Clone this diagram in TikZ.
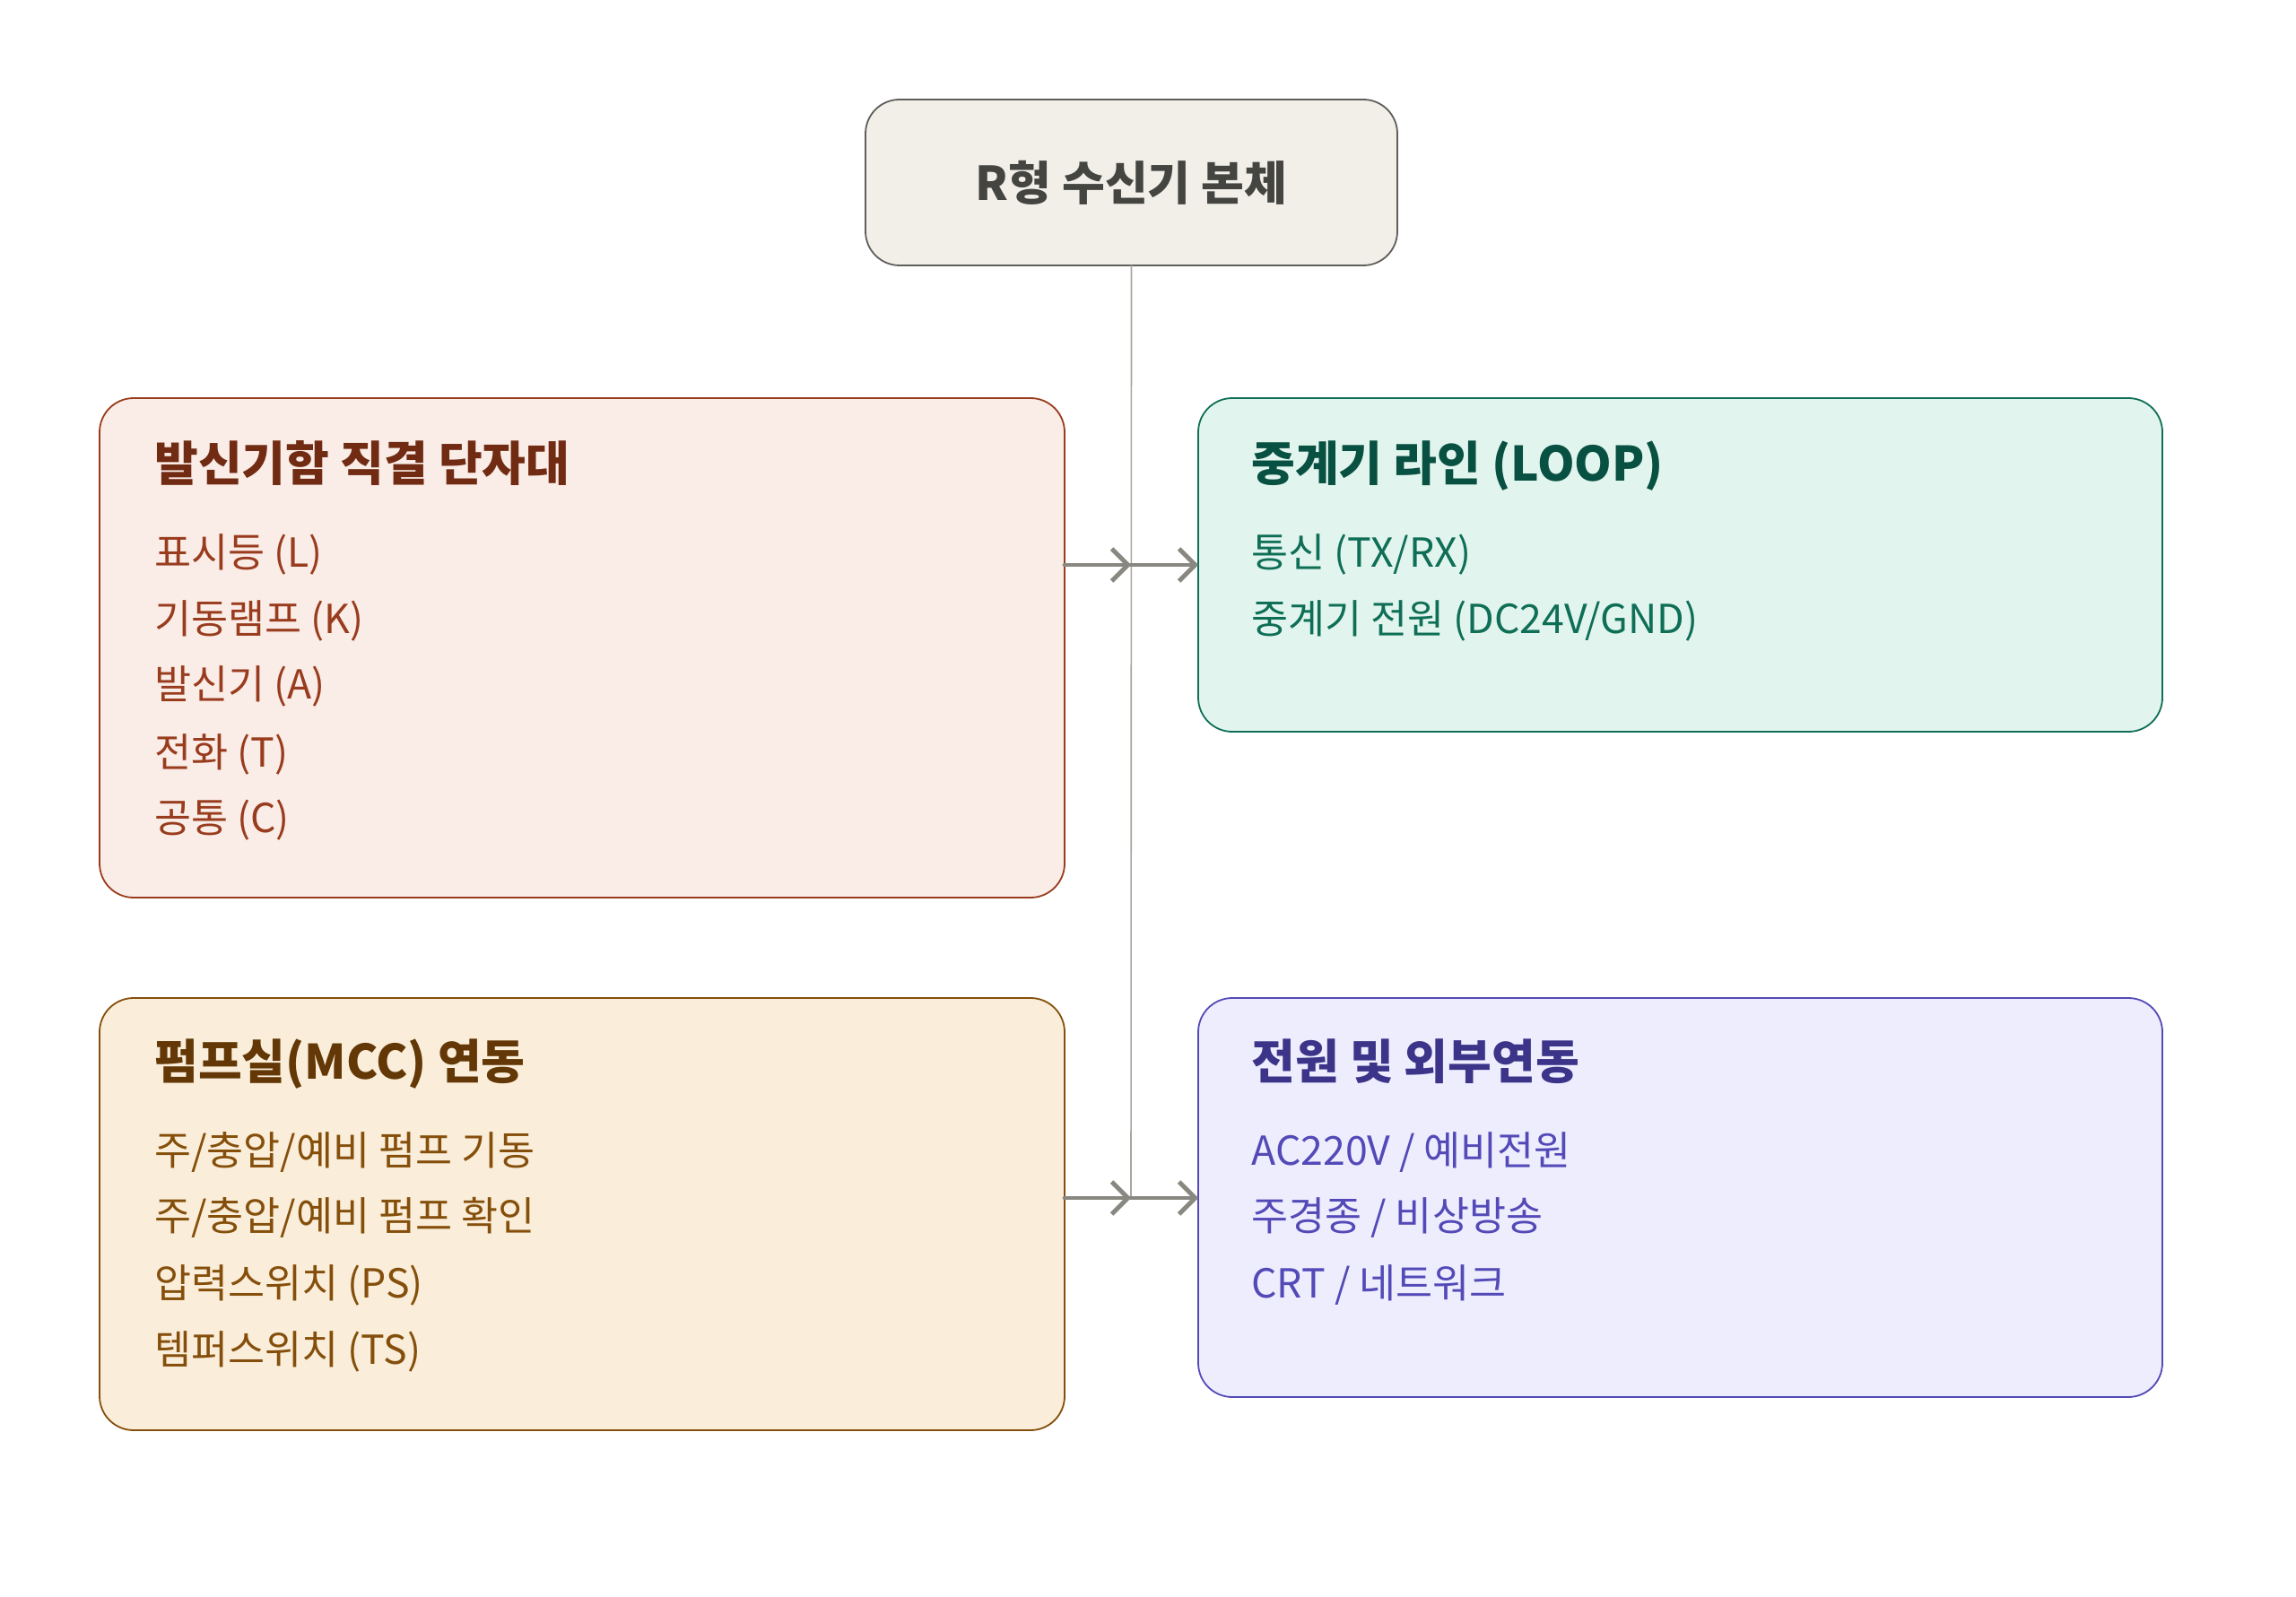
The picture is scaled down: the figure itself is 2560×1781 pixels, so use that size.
\documentclass[tikz,border=0pt]{standalone}
\usepackage{fontspec}
\setmainfont{Noto Sans CJK KR}
\usetikzlibrary{arrows.meta}
\definecolor{grayfill}{HTML}{F1EFE8}
\definecolor{graystroke}{HTML}{5F5E5A}
\definecolor{graytext}{HTML}{444441}
\definecolor{coralfill}{HTML}{FAECE7}
\definecolor{coralstroke}{HTML}{993C1D}
\definecolor{coraltitle}{HTML}{712B13}
\definecolor{coraltext}{HTML}{993C1D}
\definecolor{tealfill}{HTML}{E1F5EE}
\definecolor{tealstroke}{HTML}{0F6E56}
\definecolor{tealtitle}{HTML}{085041}
\definecolor{tealtext}{HTML}{0F6E56}
\definecolor{amberfill}{HTML}{FAEEDA}
\definecolor{amberstroke}{HTML}{854F0B}
\definecolor{ambertitle}{HTML}{633806}
\definecolor{ambertext}{HTML}{854F0B}
\definecolor{purplefill}{HTML}{EEEDFE}
\definecolor{purplestroke}{HTML}{534AB7}
\definecolor{purpletitle}{HTML}{3C3489}
\definecolor{purpletext}{HTML}{534AB7}
\definecolor{arrowgray}{HTML}{888780}
\definecolor{linegray}{HTML}{A8A69E}
\begin{document}
\begin{tikzpicture}[x=0.5pt,y=-0.5pt,
  box/.style={draw, rounded corners=19pt, line width=0.9pt, inner sep=0pt, outer sep=0pt, anchor=north west},
  ttl/.style={anchor=base west, inner sep=0pt, font=\fontsize{26.5}{31}\selectfont\bfseries},
  itm/.style={anchor=base west, inner sep=0pt, font=\fontsize{22.3}{26}\selectfont},
  conn/.style={draw=arrowgray, line width=2.4pt, line cap=round, line join=round, -{Straight Barb[length=9pt,width=18pt]}},
  trunk/.style={draw=linegray, line width=0.8pt}]
\useasboundingbox (0,0) rectangle (2560,1781);
\fill[white] (0,0) rectangle (2560,1781);
% top box
\node[box, fill=grayfill, draw=graystroke, minimum width=296.5pt, minimum height=92.5pt] (top) at (965,111) {};
\node[text=graytext, font=\fontsize{26}{30}\selectfont\bfseries, inner sep=0pt] (toptxt) at (top.center) {R형 수신기 본체};
% boxes
\node[box, fill=coralfill, draw=coralstroke, minimum width=538pt, minimum height=278.5pt] (b1) at (111,444) {};
\node[box, fill=tealfill, draw=tealstroke, minimum width=537.5pt, minimum height=186pt] (b2) at (1336,444) {};
\node[box, fill=amberfill, draw=amberstroke, minimum width=538pt, minimum height=241pt] (b3) at (111,1113) {};
\node[box, fill=purplefill, draw=purplestroke, minimum width=537.5pt, minimum height=222.5pt] (b4) at (1336,1113) {};
% texts box 1
\node[ttl, text=coraltitle] (t1) at (172,537) {발신기함 직결 단자대};
\node[itm, text=coraltext] (t1a) at (172,632) {표시등 (L)};
\node[itm, text=coraltext] (t1b) at (172,706) {기동램프 (K)};
\node[itm, text=coraltext] (t1c) at (172,779) {발신기 (A)};
\node[itm, text=coraltext] (t1d) at (172,855) {전화 (T)};
\node[itm, text=coraltext] (t1e) at (172,928) {공통 (C)};
% box 2
\node[ttl, text=tealtitle] (t2) at (1395,537) {중계기 라인 (LOOP)};
\node[itm, text=tealtext] (t2a) at (1395,632) {통신 (TX/RX)};
\node[itm, text=tealtext] (t2b) at (1395,706) {중계기 전원 (DC24V/GND)};
% box 3
\node[ttl, text=ambertitle] (t3) at (172,1203) {펌프실(MCC) 연동};
\node[itm, text=ambertext] (t3a) at (172,1299) {주/충압/예비 펌프 기동};
\node[itm, text=ambertext] (t3b) at (172,1372) {주/충압/예비 펌프 확인};
\node[itm, text=ambertext] (t3c) at (172,1447) {압력스위치 (PS)};
\node[itm, text=ambertext] (t3d) at (172,1521) {템퍼스위치 (TS)};
% box 4
\node[ttl, text=purpletitle] (t4) at (1395,1203) {전원 및 외부연동};
\node[itm, text=purpletext] (t4a) at (1395,1299) {AC220V / 예비전원};
\node[itm, text=purpletext] (t4b) at (1395,1372) {주경종 / 비상방송};
\node[itm, text=purpletext] (t4c) at (1395,1447) {CRT / 네트워크};
% connectors
\coordinate (j1) at (1261,630);
\coordinate (j2) at (1261,1336);
\draw[trunk] (top.south) -- (j2);
\draw[conn] (b1.east |- j1) -- (j1);
\draw[conn] (j1) -- (b2.west |- j1);
\draw[conn] (b3.east |- j2) -- (j2);
\draw[conn] (j2) -- (b4.west |- j2);
\end{tikzpicture}
\end{document}
